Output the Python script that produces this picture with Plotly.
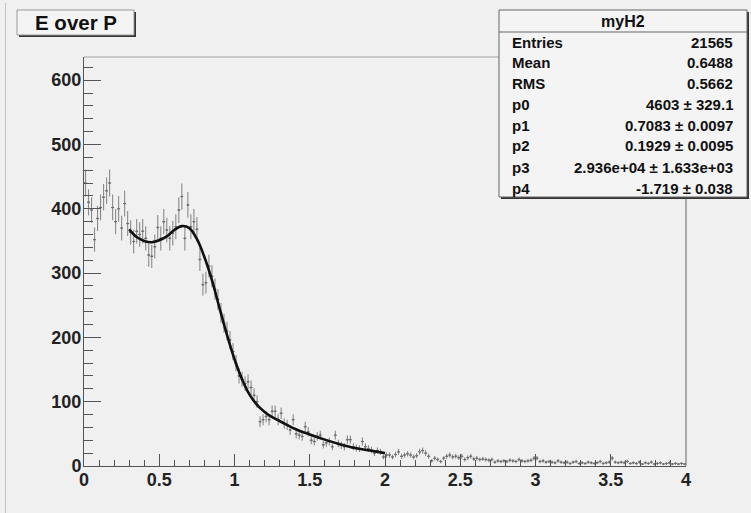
import plotly.graph_objects as go
import math

# ---- data ----
bin_width = 0.02
counts = [
    440, 410, 398, 352, 385, 402, 418, 428, 440, 402,
    380, 400, 370, 408, 377, 363, 349, 365, 360, 365,
    354, 328, 326, 341, 371, 354, 380, 367, 354, 362,
    372, 398, 419, 354, 406, 372, 380, 368, 321, 282,
    285, 311, 295, 275, 259, 238, 222, 210, 196, 178,
    160, 140, 135, 128, 131, 122, 110, 100, 69, 72,
    77, 72, 85, 85, 72, 82, 66, 64, 56, 72,
    50, 48, 46, 61, 53, 40, 38, 46, 48, 33,
    36, 38, 30, 48, 35, 32, 30, 41, 41, 30,
    28, 27, 38, 30, 27, 25, 20, 24, 22, 14,
    17, 17, 14, 18, 22, 15, 17, 19, 17, 14,
    16, 22, 24, 20, 15, 8, 12, 10, 7, 12,
    15, 17, 14, 15, 13, 15, 10, 13, 15, 11,
    12, 10, 11, 10, 9, 10, 6, 8, 7, 8,
    7, 9, 8, 7, 10, 8, 7, 8, 9, 12,
    12, 7, 8, 6, 7, 6, 5, 8, 6, 5,
    6, 4, 6, 7, 4, 5, 4, 6, 5, 4,
    5, 7, 4, 5, 6, 12, 6, 5, 6, 5,
    7, 4, 5, 4, 6, 3, 5, 4, 6, 3,
    4, 5, 3, 4, 5, 3, 4, 3, 4, 3,
]
bin_centers = [bin_width * (i + 0.5) for i in range(len(counts))]
count_errors = [math.sqrt(c) for c in counts]

fit_x = [0.30, 0.35, 0.40, 0.45, 0.50, 0.55, 0.60, 0.65, 0.70, 0.75,
         0.80, 0.85, 0.90, 0.95, 1.00, 1.05, 1.10, 1.15, 1.20, 1.25,
         1.30, 1.40, 1.50, 1.60, 1.70, 1.80, 1.90, 2.00]
fit_y = [368, 356, 350, 348, 351, 357, 367, 373, 370, 353,
         325, 289, 246, 204, 166, 135, 111, 95, 84, 76,
         70, 58, 49, 41, 34, 28, 24, 20]

x_ticks = [0, 0.5, 1, 1.5, 2, 2.5, 3, 3.5, 4]
x_tick_labels = ["0", "0.5", "1", "1.5", "2", "2.5", "3", "3.5", "4"]
y_ticks = [0, 100, 200, 300, 400, 500, 600]
y_tick_labels = ["0", "100", "200", "300", "400", "500", "600"]

hist_title = "E over P"
stats_name = "myH2"
stats_labels = ["Entries", "Mean", "RMS", "p0", "p1", "p2", "p3", "p4"]
stats_values = ["21565", "0.6488", "0.5662", "4603 ± 329.1", "0.7083 ± 0.0097",
                "0.1929 ± 0.0095", "2.936e+04 ± 1.633e+03", "-1.719 ± 0.038"]

# ---- layout geometry (pixels) ----
W, H = 751, 513
L, R, T, B = 84, 686, 57, 466
BG = "#f0f0f0"
FONT = "Liberation Sans"


def xp(px):
    return (px - L) / (R - L)


def yp(py):
    return (B - py) / (B - T)


fig = go.Figure()

fig.add_trace(go.Scatter(
    x=bin_centers, y=counts, mode="markers",
    marker=dict(size=2, color="#6e6e6e"),
    error_y=dict(type="data", array=count_errors, visible=True,
                 color="#8a8a8a", thickness=1.1, width=0),
    error_x=dict(type="constant", value=bin_width / 2, visible=True,
                 color="#6e6e6e", thickness=1, width=0),
    showlegend=False, hoverinfo="skip",
))

fig.add_trace(go.Scatter(
    x=fit_x, y=fit_y, mode="lines", line=dict(color="#111111", width=2.6, shape="spline"),
    showlegend=False, hoverinfo="skip",
))

axis_font = dict(family=FONT, size=18, color="#222222", weight="bold")

fig.update_xaxes(
    range=[0, 4], tickmode="array", tickvals=x_ticks, ticktext=x_tick_labels,
    ticks="inside", ticklen=12, tickwidth=1, tickcolor="#555555",
    minor=dict(ticks="inside", ticklen=6, dtick=0.1, tickcolor="#555555", tickwidth=1),
    showline=True, linecolor="#555555", linewidth=1, showgrid=False, zeroline=False,
    tickfont=axis_font, ticklabelstandoff=-3, fixedrange=True,
)
fig.update_yaxes(
    range=[0, 636], tickmode="array", tickvals=y_ticks, ticktext=y_tick_labels,
    ticks="inside", ticklen=17, tickwidth=1, tickcolor="#555555",
    minor=dict(ticks="inside", ticklen=9, dtick=20, tickcolor="#555555", tickwidth=1),
    showline=True, linecolor="#555555", linewidth=1, showgrid=False, zeroline=False,
    tickfont=axis_font, ticklabelstandoff=-2, fixedrange=True,
)

shapes = []
# frame top/right
shapes.append(dict(type="line", xref="paper", yref="paper", x0=0, x1=1, y0=1, y1=1,
                   line=dict(color="#a0a0a0", width=1)))
shapes.append(dict(type="line", xref="paper", yref="paper", x0=1, x1=1, y0=0, y1=1,
                   line=dict(color="#666666", width=1)))
# pad border on the left
shapes.append(dict(type="line", xref="paper", yref="paper", x0=xp(5.5), x1=xp(5.5),
                   y0=yp(3), y1=yp(513), line=dict(color="#c4c4c4", width=1)))

# title box with shadow
shapes.append(dict(type="rect", xref="paper", yref="paper", x0=xp(19), x1=xp(136),
                   y0=yp(37), y1=yp(12), fillcolor="#333333", line=dict(width=0)))
shapes.append(dict(type="rect", xref="paper", yref="paper", x0=xp(17), x1=xp(134),
                   y0=yp(35), y1=yp(10), fillcolor="#f4f4f4",
                   line=dict(color="#9a9a9a", width=1)))

# stats box with shadow
shapes.append(dict(type="rect", xref="paper", yref="paper", x0=xp(501), x1=xp(749),
                   y0=yp(199), y1=yp(12), fillcolor="#333333", line=dict(width=0)))
shapes.append(dict(type="rect", xref="paper", yref="paper", x0=xp(499), x1=xp(747),
                   y0=yp(197), y1=yp(10), fillcolor="#f4f4f4",
                   line=dict(color="#666666", width=1)))
shapes.append(dict(type="line", xref="paper", yref="paper", x0=xp(499), x1=xp(747),
                   y0=yp(32), y1=yp(32), line=dict(color="#666666", width=1)))

annotations = []
annotations.append(dict(xref="paper", yref="paper", x=xp(75.5), y=yp(23), text=hist_title,
                        showarrow=False, xanchor="center", yanchor="middle",
                        font=dict(family=FONT, size=20.5, color="#111111", weight="bold")))
annotations.append(dict(xref="paper", yref="paper", x=xp(623), y=yp(21), text=stats_name,
                        showarrow=False, xanchor="center", yanchor="middle",
                        font=dict(family=FONT, size=16, color="#111111", weight="bold")))
row_y = [42, 63, 83.5, 104, 125, 146, 167, 188]
for lab, val, ry in zip(stats_labels, stats_values, row_y):
    annotations.append(dict(xref="paper", yref="paper", x=xp(510), y=yp(ry), text=lab,
                            showarrow=False, xanchor="left", yanchor="middle",
                            font=dict(family=FONT, size=15, color="#111111", weight="bold")))
    annotations.append(dict(xref="paper", yref="paper", x=xp(735), y=yp(ry), text=val,
                            showarrow=False, xanchor="right", yanchor="middle",
                            font=dict(family=FONT, size=15, color="#111111", weight="bold")))

fig.update_layout(
    width=W, height=H, autosize=False,
    margin=dict(l=L, r=W - R, t=T, b=H - B, pad=0),
    paper_bgcolor=BG, plot_bgcolor=BG,
    shapes=shapes, annotations=annotations,
    showlegend=False,
)

fig.write_html("out.html", config={"displayModeBar": False},
               post_script="document.body.style.margin='0';document.body.style.background='" + BG + "';")
